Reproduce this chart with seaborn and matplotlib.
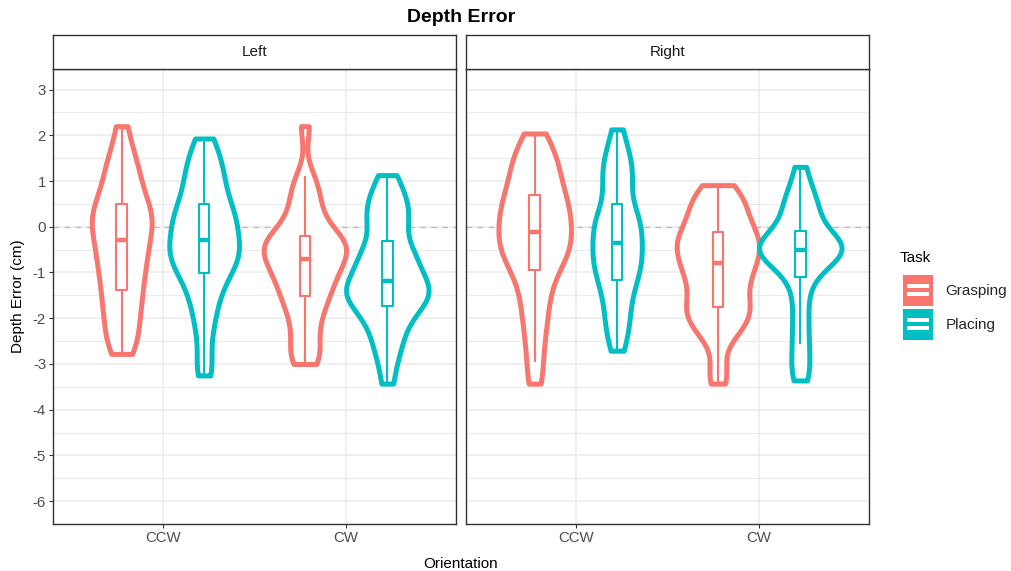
import matplotlib
matplotlib.use("Agg")
import matplotlib.pyplot as plt
import numpy as np
import pandas as pd
import seaborn as sns
from matplotlib.patches import Rectangle
from matplotlib.lines import Line2D
from matplotlib.legend_handler import HandlerBase

# ---- data ---------------------------------------------------------------
hands = ["Left", "Right"]
orientations = ["CCW", "CW"]
tasks = ["Grasping", "Placing"]
task_colors = ["#F8766D", "#00BFC4"]

left_ccw_grasping = [-2.78, -2.6, -2.4, -2.2, -2.0, -1.82, -1.65, -1.5,
                     -1.33, -1.17, -1.02, -0.88, -0.75, -0.62, -0.5, -0.38,
                     -0.22, -0.12, -0.02, 0.08, 0.18, 0.28, 0.38, 0.47,
                     0.6, 0.76, 0.93, 1.1, 1.28, 1.48, 1.72, 2.2]
left_ccw_placing = [-3.25, -2.9, -2.35, -2.0, -1.72, -1.48, -1.3, -1.13,
                    -0.97, -0.87, -0.78, -0.69, -0.6, -0.52, -0.44, -0.37,
                    -0.23, -0.13, -0.03, 0.07, 0.17, 0.27, 0.37, 0.46,
                    0.62, 0.78, 0.94, 1.1, 1.27, 1.45, 1.65, 1.93]
left_cw_grasping = [-3.0, -2.88, -2.7, -2.45, -2.18, -1.95, -1.77, -1.62,
                    -1.48, -1.36, -1.24, -1.13, -1.02, -0.92, -0.83, -0.75,
                    -0.65, -0.58, -0.51, -0.44, -0.38, -0.32, -0.27, -0.23,
                    -0.11, 0.05, 0.25, 0.45, 0.65, 0.88, 1.11, 2.2]
left_cw_placing = [-3.43, -2.95, -2.68, -2.45, -2.25, -2.08, -1.93, -1.8,
                   -1.71, -1.63, -1.56, -1.49, -1.42, -1.35, -1.29, -1.23,
                   -1.15, -1.03, -0.92, -0.81, -0.7, -0.6, -0.5, -0.38,
                   -0.1, 0.05, 0.2, 0.35, 0.5, 0.65, 0.85, 1.13]
right_ccw_grasping = [-3.43, -2.95, -2.5, -2.15, -1.85, -1.58, -1.33, -1.1,
                      -0.9, -0.78, -0.67, -0.56, -0.45, -0.35, -0.26, -0.18,
                      -0.06, 0.05, 0.16, 0.27, 0.38, 0.48, 0.57, 0.65,
                      0.85, 0.98, 1.12, 1.27, 1.43, 1.6, 1.75, 2.04]
right_ccw_placing = [-2.71, -2.42, -2.2, -2.0, -1.8, -1.6, -1.42, -1.24,
                     -1.14, -1.02, -0.91, -0.8, -0.7, -0.6, -0.51, -0.43,
                     -0.29, -0.18, -0.08, 0.02, 0.12, 0.22, 0.32, 0.42,
                     0.74, 0.9, 1.06, 1.22, 1.38, 1.55, 1.75, 2.13]
right_cw_grasping = [-3.43, -3.05, -2.45, -2.28, -2.14, -2.0, -1.88, -1.8,
                     -1.73, -1.58, -1.43, -1.29, -1.16, -1.04, -0.94, -0.86,
                     -0.74, -0.64, -0.55, -0.46, -0.38, -0.3, -0.22, -0.15,
                     -0.02, 0.1, 0.22, 0.35, 0.48, 0.62, 0.76, 0.91]
right_cw_placing = [-3.36, -3.15, -2.85, -2.57, -2.25, -1.95, -1.6, -1.3,
                    -1.03, -0.9, -0.8, -0.72, -0.65, -0.6, -0.56, -0.52,
                    -0.48, -0.44, -0.4, -0.36, -0.32, -0.27, -0.22, -0.16,
                    0.08, 0.2, 0.32, 0.45, 0.58, 0.72, 0.95, 1.31]

groups = {
    ("Left", "CCW", "Grasping"): left_ccw_grasping,
    ("Left", "CCW", "Placing"): left_ccw_placing,
    ("Left", "CW", "Grasping"): left_cw_grasping,
    ("Left", "CW", "Placing"): left_cw_placing,
    ("Right", "CCW", "Grasping"): right_ccw_grasping,
    ("Right", "CCW", "Placing"): right_ccw_placing,
    ("Right", "CW", "Grasping"): right_cw_grasping,
    ("Right", "CW", "Placing"): right_cw_placing,
}
df = pd.DataFrame(
    [(h, o, t, v) for (h, o, t), vals in groups.items() for v in vals],
    columns=["Hand", "Orientation", "Task", "DepthError"],
)

y_ticks = [3, 2, 1, 0, -1, -2, -3, -4, -5, -6]

# ---- styling ------------------------------------------------------------
sns.set_theme(style="white")
plt.rcParams["font.family"] = ["Liberation Sans", "DejaVu Sans"]
plt.rcParams["axes.unicode_minus"] = False

W, H = 1011, 571
fig = plt.figure(figsize=(W / 100, H / 100), dpi=100)
fig.patch.set_facecolor("white")


def px_rect(x0, y0, x1, y1):
    return [x0 / W, 1 - y1 / H, (x1 - x0) / W, (y1 - y0) / H]


panel_x = [(53, 456), (466, 869)]
palette = dict(zip(tasks, task_colors))
border = "#333333"
grid_c = "#EBEBEB"

for i, hand in enumerate(hands):
    x0, x1 = panel_x[i]
    ax = fig.add_axes(px_rect(x0, 69, x1, 524))
    sub = df[df["Hand"] == hand]

    sns.violinplot(
        data=sub, x="Orientation", y="DepthError", hue="Task",
        order=orientations, hue_order=tasks, palette=palette,
        width=0.9, cut=0, inner=None, fill=False, linewidth=3.6,
        bw_adjust=0.58, legend=False, ax=ax,
    )
    for coll in ax.collections:
        coll.set_facecolor("white")
        coll.set_zorder(1)

    sns.boxplot(
        data=sub, x="Orientation", y="DepthError", hue="Task",
        order=orientations, hue_order=tasks, palette=palette,
        width=0.9, gap=0.87, fill=False, linewidth=1.5,
        showfliers=False, showcaps=False,
        medianprops={"linewidth": 3.2}, legend=False, ax=ax,
    )

    ax.axhline(0, color="#BEBEBE", lw=1.0, ls=(0, (4, 4)), zorder=0.6)

    ax.set_xlim(-0.6, 1.6)
    ax.set_ylim(-6.45, 3.45)
    ax.set_yticks(y_ticks)
    ax.set_yticks(np.arange(-6.5, 3.5, 1.0), minor=True)
    ax.set_axisbelow(True)
    ax.grid(True, which="major", color=grid_c, lw=1.1)
    ax.grid(True, which="minor", axis="y", color=grid_c, lw=0.8)
    ax.set_xlabel("")
    ax.set_ylabel("")
    ax.tick_params(axis="both", which="major", length=3, width=0.8,
                   color=border, labelcolor="#4D4D4D", labelsize=10.8,
                   pad=2, left=True, bottom=True)
    ax.tick_params(axis="y", which="minor", length=0)
    if i > 0:
        ax.tick_params(axis="y", left=False, labelleft=False)
    for s in ax.spines.values():
        s.set_color(border)
        s.set_linewidth(1.0)

    # facet strip
    sax = fig.add_axes(px_rect(x0, 35, x1, 69))
    sax.set_xticks([])
    sax.set_yticks([])
    sax.set_facecolor("white")
    for s in sax.spines.values():
        s.set_color(border)
        s.set_linewidth(1.0)
    sax.text(0.5, 0.5, hand, ha="center", va="center", fontsize=11,
             color="#1A1A1A", transform=sax.transAxes)

fig.text(461 / W, 1 - 17 / H, "Depth Error", ha="center", va="center",
         fontsize=14, fontweight="bold", color="black")
fig.text(461 / W, 1 - 564 / H, "Orientation", ha="center", va="center",
         fontsize=11, color="black")
fig.text(18 / W, 1 - 296 / H, "Depth Error (cm)", ha="center", va="center",
         rotation=90, fontsize=11, color="black")


class BoxKeyHandler(HandlerBase):
    """Legend key: violin outline with an inset box and median bar."""

    def create_artists(self, legend, orig_handle, xdescent, ydescent,
                       width, height, fontsize, trans):
        c = orig_handle.get_color()
        x0, y0 = -xdescent, -ydescent
        arts = [Rectangle((x0, y0), width, height, facecolor=c,
                          edgecolor="none", transform=trans)]
        for b0, b1 in [(0.30, 0.435), (0.565, 0.70)]:
            arts.append(Rectangle((x0 + 0.13 * width, y0 + b0 * height),
                                  0.74 * width, (b1 - b0) * height,
                                  facecolor="white", edgecolor="none",
                                  transform=trans))
        return arts


# legend title placed on its own, keys below it
fig.text(900 / W, 1 - 258 / H, "Task", ha="left", va="center",
         fontsize=11, color="black")
handles = [Line2D([0], [0], color=c) for c in task_colors]
leg = fig.legend(
    handles, tasks, loc="upper left",
    bbox_to_anchor=(889 / W, 1 - 261 / H), frameon=False,
    handler_map={Line2D: BoxKeyHandler()},
    fontsize=11, handlelength=2.0, handleheight=2.75,
    handletextpad=0.8, labelspacing=0.18,
)

fig.savefig("out.png", dpi=100, facecolor="white")
